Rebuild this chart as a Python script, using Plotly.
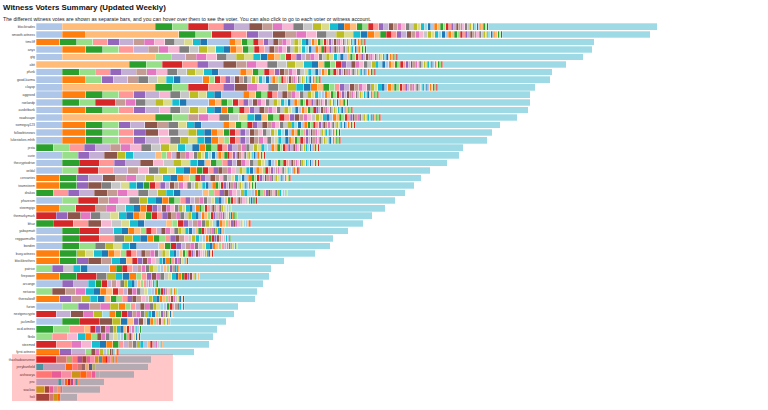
import plotly.graph_objects as go

WITNESSES = ["blocktrades", "smooth.witness", "timcliff", "anyx", "gtg", "abit", "pfunk", "good-karma",
             "clayop", "aggroed", "roelandp", "ausbitbank", "roadscape", "someguy123", "followbtcnews",
             "lukestokes.mhth", "jesta", "curie", "thecryptodrive", "xeldal", "cervantes", "teamsteem",
             "drakos", "pharesim", "steemgigs", "themarkymark", "bhuz", "yabapmatt", "reggaemuffin",
             "bonden", "busy.witness", "blockbrothers", "patrice", "firepower", "arcange", "netuoso",
             "therealwolf", "furion", "nextgencrypto", "jackmiller", "ocd-witness", "fbslo", "steemed",
             "fyrst-witness", "thashadowrunner", "jerrybanfield", "aishwarya", "pnc", "wackou", "holi"]

TOTAL_WEIGHT = [621, 614, 558, 556, 547, 530, 516, 514, 499, 494, 494, 492, 481, 464, 456, 451, 427, 423,
                411, 394, 385, 378, 369, 359, 349, 336, 327, 312, 297, 294, 279, 248, 235, 233, 227, 221,
                219, 202, 198, 190, 181, 177, 173, 158, 115, 112, 98, 68, 64, 41]

VOTER_WEIGHT = [26, 23.5, 93, 17, 16, 20, 15, 11.5, 14.5, 13, 10.5, 10, 10.5, 10, 9.5, 8.5, 8.5, 7.5,
                7, 7, 22, 6.5, 6, 6, 5.5, 5.5, 5, 5, 4.8, 4.6, 4.4, 4.2, 4, 3.9, 3.8, 3.7, 3.6, 3.5,
                3.4, 3.3, 3.2, 3.1, 3, 2.9, 2.8, 2.7, 2.6, 2.5, 2.4, 2.3, 2.2, 2.2, 2.1, 2.1, 2, 2,
                1.9, 1.9, 1.8, 1.8, 1.7, 1.7, 1.6, 1.6, 1.5, 1.5]

VOTES = [
    [0,2,3,4,5,6,7,8,9,10,11,12,13,14,15,16,17,19,21,22,23,24,25,26,27,28,29,30,31,32,33,34,35,36,37,38,39,40,41,42,43,44,45,46,47,48,49,50,51,52,53,54,55,56,57,58,59,60,61,62,63,64,65],
    [0,1,2,3,4,5,6,7,8,9,10,11,12,13,14,15,16,17,19,21,22,23,25,26,27,28,29,30,31,32,34,35,36,37,38,39,40,41,42,43,44,45,46,47,48,49,50,51,52,53,54,55,56,57,58,59,60,61,62,63,64,65],
    [1,3,4,6,7,8,10,11,12,13,14,16,17,19,20,21,22,23,24,25,26,27,28,29,30,31,32,34,35,36,37,39,40,41,42,43,44,45,46,47,48,49,50,51,52,53,54,55,56,57,58,59,60,61,62,63,64,65],
    [0,1,3,4,6,8,10,11,12,13,14,15,16,17,19,21,22,23,24,25,26,28,29,30,31,32,33,34,35,36,37,38,39,40,41,42,43,45,46,47,48,49,50,51,52,53,54,55,56,57,58,59,60,61,62,63,64,65],
    [0,2,4,8,10,11,12,13,14,15,16,17,19,21,22,24,25,26,27,28,30,31,32,33,34,35,36,37,38,39,40,42,43,44,45,46,47,48,49,50,51,52,53,54,55,56,57,58,59,60,61,62,63,64,65],
    [2,3,4,5,6,7,8,9,10,11,12,13,14,15,16,17,19,22,23,24,25,27,28,29,31,32,33,34,35,37,38,39,40,41,42,43,44,45,46,47,48,49,50,51,52,53,54,55,56,57,58,59,60,61,62,63,64,65],
    [0,3,4,6,7,8,10,11,12,13,14,15,16,17,19,20,21,22,23,24,25,26,27,29,30,31,32,33,34,36,37,38,39,40,41,42,43,44,45,46,47,48,49,50,51,52,53,54,55,56,57,58,59,60,61,62,63,64,65],
    [0,1,4,7,8,10,13,14,16,17,19,20,21,24,25,26,27,28,29,30,33,34,35,36,37,38,39,40,41,42,44,45,46,48,49,50,51,52,53,54,55,56,57,58,59,60,61,62,63,64,65],
    [0,2,3,4,5,6,7,9,11,12,13,14,15,17,19,21,22,23,24,26,27,28,29,30,31,32,33,35,36,37,39,40,41,42,43,44,45,46,47,48,50,51,52,53,54,56,57,58,59,60,61,62,63,64,65],
    [0,1,3,4,6,7,8,12,13,14,15,16,17,19,20,21,22,23,24,25,26,28,29,30,31,32,33,34,35,36,37,38,40,41,42,43,44,45,46,47,48,49,50,51,52,53,54,55,56,57,58,59,60,61,62,63,64,65],
    [0,3,4,5,10,11,13,14,15,16,17,19,20,21,22,23,24,25,26,27,28,29,31,32,33,34,35,36,37,38,39,40,41,42,43,44,45,46,47,48,49,50,51,52,53,54,55,56,57,58,59,60,61,62,63,64,65],
    [0,1,3,4,6,7,8,12,13,14,15,16,17,19,21,23,24,25,26,27,28,29,30,31,32,33,34,35,36,38,39,40,41,42,43,44,45,47,48,49,50,51,52,53,54,55,56,57,58,59,60,61,62,63,64,65],
    [0,2,3,4,10,11,12,13,14,16,17,19,22,23,24,25,26,27,29,30,31,32,34,35,36,37,39,40,41,42,43,44,45,46,47,49,50,51,53,54,55,56,57,58,59,61,62,63,64,65],
    [0,1,3,4,7,8,9,10,13,16,17,19,20,21,22,23,24,25,27,28,29,30,31,32,33,34,35,37,38,39,40,41,43,44,45,46,47,48,49,50,51,52,53,54,55,56,57,58,59,60,61,62,63,64,65],
    [0,1,3,4,6,7,9,12,13,14,15,17,19,21,22,23,25,26,27,28,29,30,32,33,34,35,36,37,38,39,40,41,42,43,44,46,47,48,49,50,51,52,54,55,56,57,58,59,60,61,62,63,64,65],
    [0,1,3,4,6,7,8,12,13,15,16,17,19,21,22,24,25,26,27,28,29,30,31,32,33,34,36,37,38,39,41,42,43,44,45,46,47,48,49,50,51,52,53,54,55,56,58,59,60,61,62,63,64,65],
    [3,4,6,7,8,10,11,12,13,14,15,16,17,18,19,21,23,24,25,26,27,28,30,31,33,34,35,36,37,38,40,41,42,43,44,45,46,47,48,49,51,52,53,54,55,57,58,59,60,61,63,64,65],
    [0,4,7,8,9,15,17,20,22,24,26,28,29,30,31,32,33,35,36,37,38,39,40,41,42,43,45,46,47,48,49,50,52,53,54,55,56,57,59,60,61,62,63,64,65],
    [0,3,5,6,7,8,9,12,14,15,16,17,19,22,23,24,26,27,28,29,31,32,33,34,35,36,38,39,40,42,43,44,45,46,48,49,50,51,52,53,55,56,57,58,59,60,62,63,64,65],
    [0,4,5,6,8,10,12,13,15,16,17,19,21,23,25,26,27,29,30,31,32,34,35,36,37,39,40,41,42,44,45,46,47,48,50,51,52,53,54,56,57,58,60,61,62,63,65],
    [1,3,7,8,9,10,11,14,15,16,17,19,21,22,24,25,27,28,29,30,32,33,34,36,37,38,39,40,41,43,44,45,47,48,49,50,51,53,54,55,56,58,59,60,61,62,64,65],
    [1,3,7,9,13,14,16,17,19,23,25,26,27,28,29,30,31,32,33,34,35,36,37,39,40,41,43,44,45,47,48,49,50,51,53,54,55,56,58,59,60,61,62,63,64,65],
    [3,6,7,8,9,10,11,12,13,14,15,17,19,20,22,24,26,27,29,31,32,34,35,37,38,40,41,43,44,46,47,49,50,52,53,55,57,58,60,62,64],
    [0,4,5,10,11,12,13,15,17,19,21,23,24,26,27,28,30,31,33,34,36,37,39,40,42,43,45,46,48,49,51,52,54,56,57,59,61,63,65],
    [1,4,5,10,11,14,17,19,21,25,27,28,29,31,32,33,35,36,37,39,40,41,43,44,45,46,48,49,50,52,53,55,56,58,60,62,64],
    [5,7,9,11,13,14,16,17,19,21,22,23,25,26,27,29,30,31,33,34,35,37,39,40,41,42,44,45,47,48,50,51,53,54,56,57,59,61,63,64],
    [3,5,6,9,12,14,16,17,19,20,22,24,25,27,28,30,31,33,35,36,38,39,41,42,44,46,47,49,51,52,54,56,58,60,62,65],
    [0,3,5,8,17,19,21,22,24,25,26,28,29,31,32,33,35,36,37,39,40,42,43,45,46,48,50,51,53,55,57,59,61,64],
    [0,3,5,6,13,15,17,19,21,23,24,26,27,29,30,32,34,35,37,38,40,41,43,45,47,49,50,52,54,57,60,63],
    [0,3,4,13,15,16,17,19,20,22,23,25,27,28,30,31,33,34,36,37,39,41,42,44,46,48,50,53,55,58,61,64],
    [1,3,15,16,17,19,21,22,24,25,26,28,29,30,31,33,34,35,36,37,39,40,42,43,44,45,47,48,49,51,52,54,55,57,59,62,65],
    [1,3,7,9,10,17,19,22,25,27,29,31,32,34,37,39,41,43,46,47,51,53,56,58,61,63],
    [4,7,14,17,19,20,21,23,25,26,28,30,31,33,35,36,38,40,42,44,47,50,53,57,61],
    [1,3,5,13,15,17,19,21,24,26,27,29,31,33,34,36,37,39,41,43,45,47,49,52,55,58,62],
    [0,7,8,17,23,25,28,30,32,33,35,37,39,40,42,44,46,48,51,54,57,60,63],
    [4,9,10,11,17,19,21,22,25,26,28,29,31,33,34,36,38,40,41,43,45,47,50,52,55,58,61,64],
    [1,7,10,15,17,19,22,23,24,26,27,29,30,32,34,35,37,39,41,42,44,46,49,51,54,56,59,62,65],
    [0,4,7,10,11,15,21,24,26,28,29,31,33,35,36,38,40,43,45,48,50,53,57,60,63],
    [5,8,9,11,15,18,21,23,25,27,30,31,33,35,37,39,42,44,47,50,53,56,59,62],
    [0,3,5,9,15,19,22,27,29,34,39,41,44,46,49,52,55,58,61,64],
    [3,4,6,22,25,27,29,31,33,35,37,39,42,45,48,51,54,57,60,63],
    [4,6,12,17,21,24,29,31,33,34,36,38,40,43,46,49,52,56,59,62,65],
    [5,6,11,12,17,19,21,23,26,28,30,33,35,37,40,42,45,48,51,54,58,61],
    [1,7,8,24,29,31,35,40,44,49,53,58,62,65],
    [5,10,24,26,27,29,31,32,35,37,41,45,48,52,55,58,61],
    [17,20,21,26,30,33,36,39,44],
    [6,11,12,15,21,26,31,38],
    [20,37,40,41,45,47,52,57,61],
    [15,29,31,34,42,50],
    [9,30,35,41],
]

INACTIVE = ["thashadowrunner", "jerrybanfield", "aishwarya", "pnc", "wackou", "holi"]

TITLE = "Witness Voters Summary (Updated Weekly)"
SUBTITLE = ("The different witness votes are shown as separate bars, and you can hover over them to see "
            "the voter. You can also click to go to each voter or witness account.")

TAB20 = ["#1f77b4", "#aec7e8", "#ff7f0e", "#ffbb78", "#2ca02c", "#98df8a", "#d62728", "#ff9896",
         "#9467bd", "#c5b0d5", "#8c564b", "#c49c94", "#e377c2", "#f7b6d2", "#7f7f7f", "#c7c7c7",
         "#bcbd22", "#dbdb8d", "#17becf", "#9edae5"]
FONT = "Liberation Sans, Arial, Helvetica, sans-serif"

rows = list(range(len(WITNESSES)))
fig = go.Figure()
seg_line = dict(color="rgba(255,255,255,0.75)", width=0.4)

for v, w in enumerate(VOTER_WEIGHT):
    xs = [w if v in VOTES[r] else None for r in rows]
    fig.add_trace(go.Bar(
        x=xs, y=rows, orientation="h", name=f"voter {v + 1}",
        marker=dict(color=TAB20[(v + 1) % 20], line=seg_line),
        customdata=WITNESSES, hovertemplate="%{customdata}: %{x}<extra>%{fullData.name}</extra>",
        showlegend=False))

others = [TOTAL_WEIGHT[r] - sum(VOTER_WEIGHT[v] for v in VOTES[r]) for r in rows]
fig.add_trace(go.Bar(
    x=others, y=rows, orientation="h", name="other voters",
    marker=dict(color="#9edae5", line=seg_line),
    customdata=WITNESSES, hovertemplate="%{customdata}: %{x}<extra>other voters</extra>",
    showlegend=False))

x_max = max(TOTAL_WEIGHT) * 1.178
inactive_rows = [WITNESSES.index(n) for n in INACTIVE]
inactive_max = max(TOTAL_WEIGHT[r] for r in inactive_rows)

fig.add_shape(type="rect", xref="paper", yref="y",
              x0=-24 / 732, x1=inactive_max * 1.19 / x_max,
              y0=min(inactive_rows) - 0.7, y1=max(inactive_rows) + 0.63,
              fillcolor="red", opacity=0.22, line=dict(width=0), layer="above")

fig.add_annotation(text=f"<b>{TITLE}</b>", xref="paper", yref="paper",
                   x=-35 / 732, y=1.0397, xanchor="left", yanchor="middle", showarrow=False,
                   font=dict(family=FONT, size=7.9, color="#111"))
fig.add_annotation(text=SUBTITLE, xref="paper", yref="paper",
                   x=-35 / 732, y=1.0119, xanchor="left", yanchor="middle", showarrow=False,
                   font=dict(family=FONT, size=5.2, color="#222"))

fig.update_layout(
    width=768, height=410,
    margin=dict(l=36, r=0, t=23, b=9),
    barmode="stack", bargap=0.12,
    plot_bgcolor="white", paper_bgcolor="white",
    font=dict(family=FONT),
    xaxis=dict(range=[0, x_max], visible=False, fixedrange=True),
    yaxis=dict(tickmode="array", tickvals=rows, ticktext=WITNESSES, range=[len(rows) - 0.5, -0.5],
               showgrid=False, zeroline=False, showline=False, ticks="",
               tickfont=dict(family=FONT, size=3.4, color="#444"), fixedrange=True),
)

fig.write_html("out.html", config={"displayModeBar": False},
               post_script="document.body.style.margin='0';")
